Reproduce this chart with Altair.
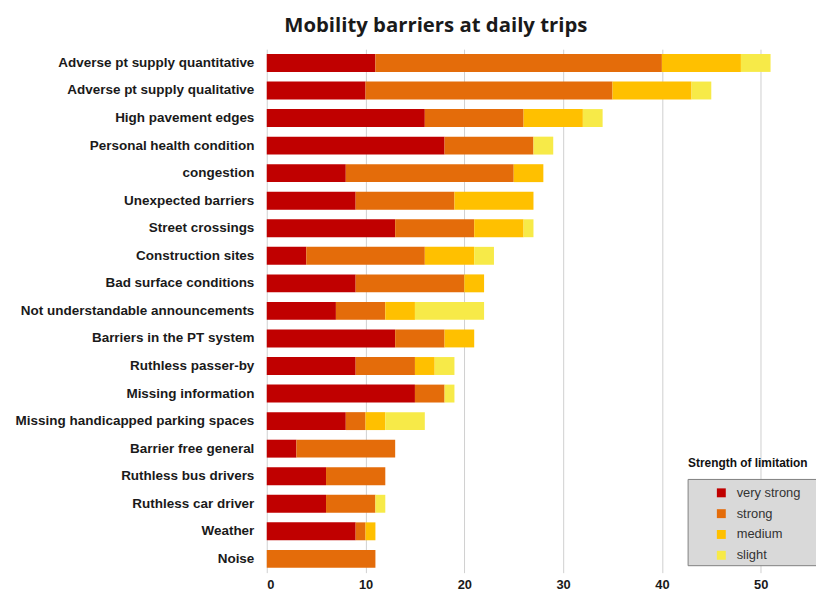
import altair as alt
import pandas as pd

barriers = [
    "Adverse pt supply quantitative",
    "Adverse pt supply qualitative",
    "High pavement edges",
    "Personal health condition",
    "congestion",
    "Unexpected barriers",
    "Street crossings",
    "Construction sites",
    "Bad surface conditions",
    "Not understandable announcements",
    "Barriers in the PT system",
    "Ruthless passer-by",
    "Missing information",
    "Missing handicapped parking spaces",
    "Barrier free general",
    "Ruthless bus drivers",
    "Ruthless car driver",
    "Weather",
    "Noise",
]
very_strong = [11, 10, 16, 18, 8, 9, 13, 4, 9, 7, 13, 9, 15, 8, 3, 6, 6, 9, 0]
strong = [29, 25, 10, 9, 17, 10, 8, 12, 11, 5, 5, 6, 3, 2, 10, 6, 5, 1, 11]
medium = [8, 8, 6, 0, 3, 8, 5, 5, 2, 3, 3, 2, 0, 2, 0, 0, 0, 1, 0]
slight = [3, 2, 2, 2, 0, 0, 1, 2, 0, 7, 0, 2, 1, 4, 0, 0, 1, 0, 0]
levels = ["very strong", "strong", "medium", "slight"]
colors = ["#C00000", "#E46C0A", "#FFC000", "#F7EA48"]
tick_values = [0, 10, 20, 30, 40, 50]
title_text = "Mobility barriers at daily trips"
legend_title = "Strength of limitation"

rows = []
for i, b in enumerate(barriers):
    for k, vals in enumerate([very_strong, strong, medium, slight]):
        if vals[i] > 0:
            rows.append({"barrier": b, "level": levels[k], "order": k, "value": vals[i]})
df = pd.DataFrame(rows)

bars = alt.Chart(df).mark_bar().encode(
    y=alt.Y(
        "barrier:N",
        sort=barriers,
        title=None,
        scale=alt.Scale(paddingInner=0.35, paddingOuter=0.175),
        axis=alt.Axis(
            ticks=False, domain=False, grid=False,
            labelFont="Liberation Sans", labelFontSize=13.6, labelFontWeight="bold",
            labelColor="#1a1a1a", labelPadding=13, labelLimit=300,
        ),
    ),
    x=alt.X(
        "value:Q",
        stack="zero",
        title=None,
        scale=alt.Scale(domain=[0, 55.5], nice=False),
        axis=alt.Axis(
            values=tick_values, ticks=False, domain=False, grid=True,
            gridColor="#cfcfcf", gridWidth=1,
            labelFont="Liberation Sans", labelFontSize=13, labelFontWeight="bold",
            labelColor="#1a1a1a", labelPadding=6,
        ),
    ),
    color=alt.Color(
        "level:N",
        scale=alt.Scale(domain=levels, range=colors),
        legend=alt.Legend(
            orient="none", legendX=452, legendY=441, title=None,
            symbolType="square", symbolSize=81, symbolStrokeWidth=0,
            labelFont="Liberation Sans Narrow, Liberation Sans", labelFontSize=13,
            labelColor="#333333", rowPadding=7, padding=0, labelOffset=9,
        ),
    ),
    order=alt.Order("order:Q"),
)

box = alt.Chart(pd.DataFrame({"k": [0]})).mark_rect(
    fill="#d9d9d9", stroke="#808080", strokeWidth=1
).encode(
    x=alt.value(425), x2=alt.value(560), y=alt.value(434), y2=alt.value(521)
)

ltitle = alt.Chart(pd.DataFrame({"t": [legend_title]})).mark_text(
    align="left", baseline="middle", fontWeight="bold", fontSize=12,
    font="Liberation Sans", color="#111111"
).encode(x=alt.value(425), y=alt.value(417), text="t:N")

chart = alt.layer(bars, box, ltitle).properties(
    width=553,
    height=528,
    autosize=alt.AutoSizeParams(type="none"),
    padding={"left": 261, "top": 39, "right": 1, "bottom": 18},
    title=alt.TitleParams(
        text=title_text, font="Open Sans", fontSize=20.5, fontWeight="bold",
        anchor="middle", dx=-106, offset=13, color="#1a1a1a",
    ),
).configure_view(stroke=None)

chart.save("out.html", embed_options={"renderer": "svg", "actions": False})
